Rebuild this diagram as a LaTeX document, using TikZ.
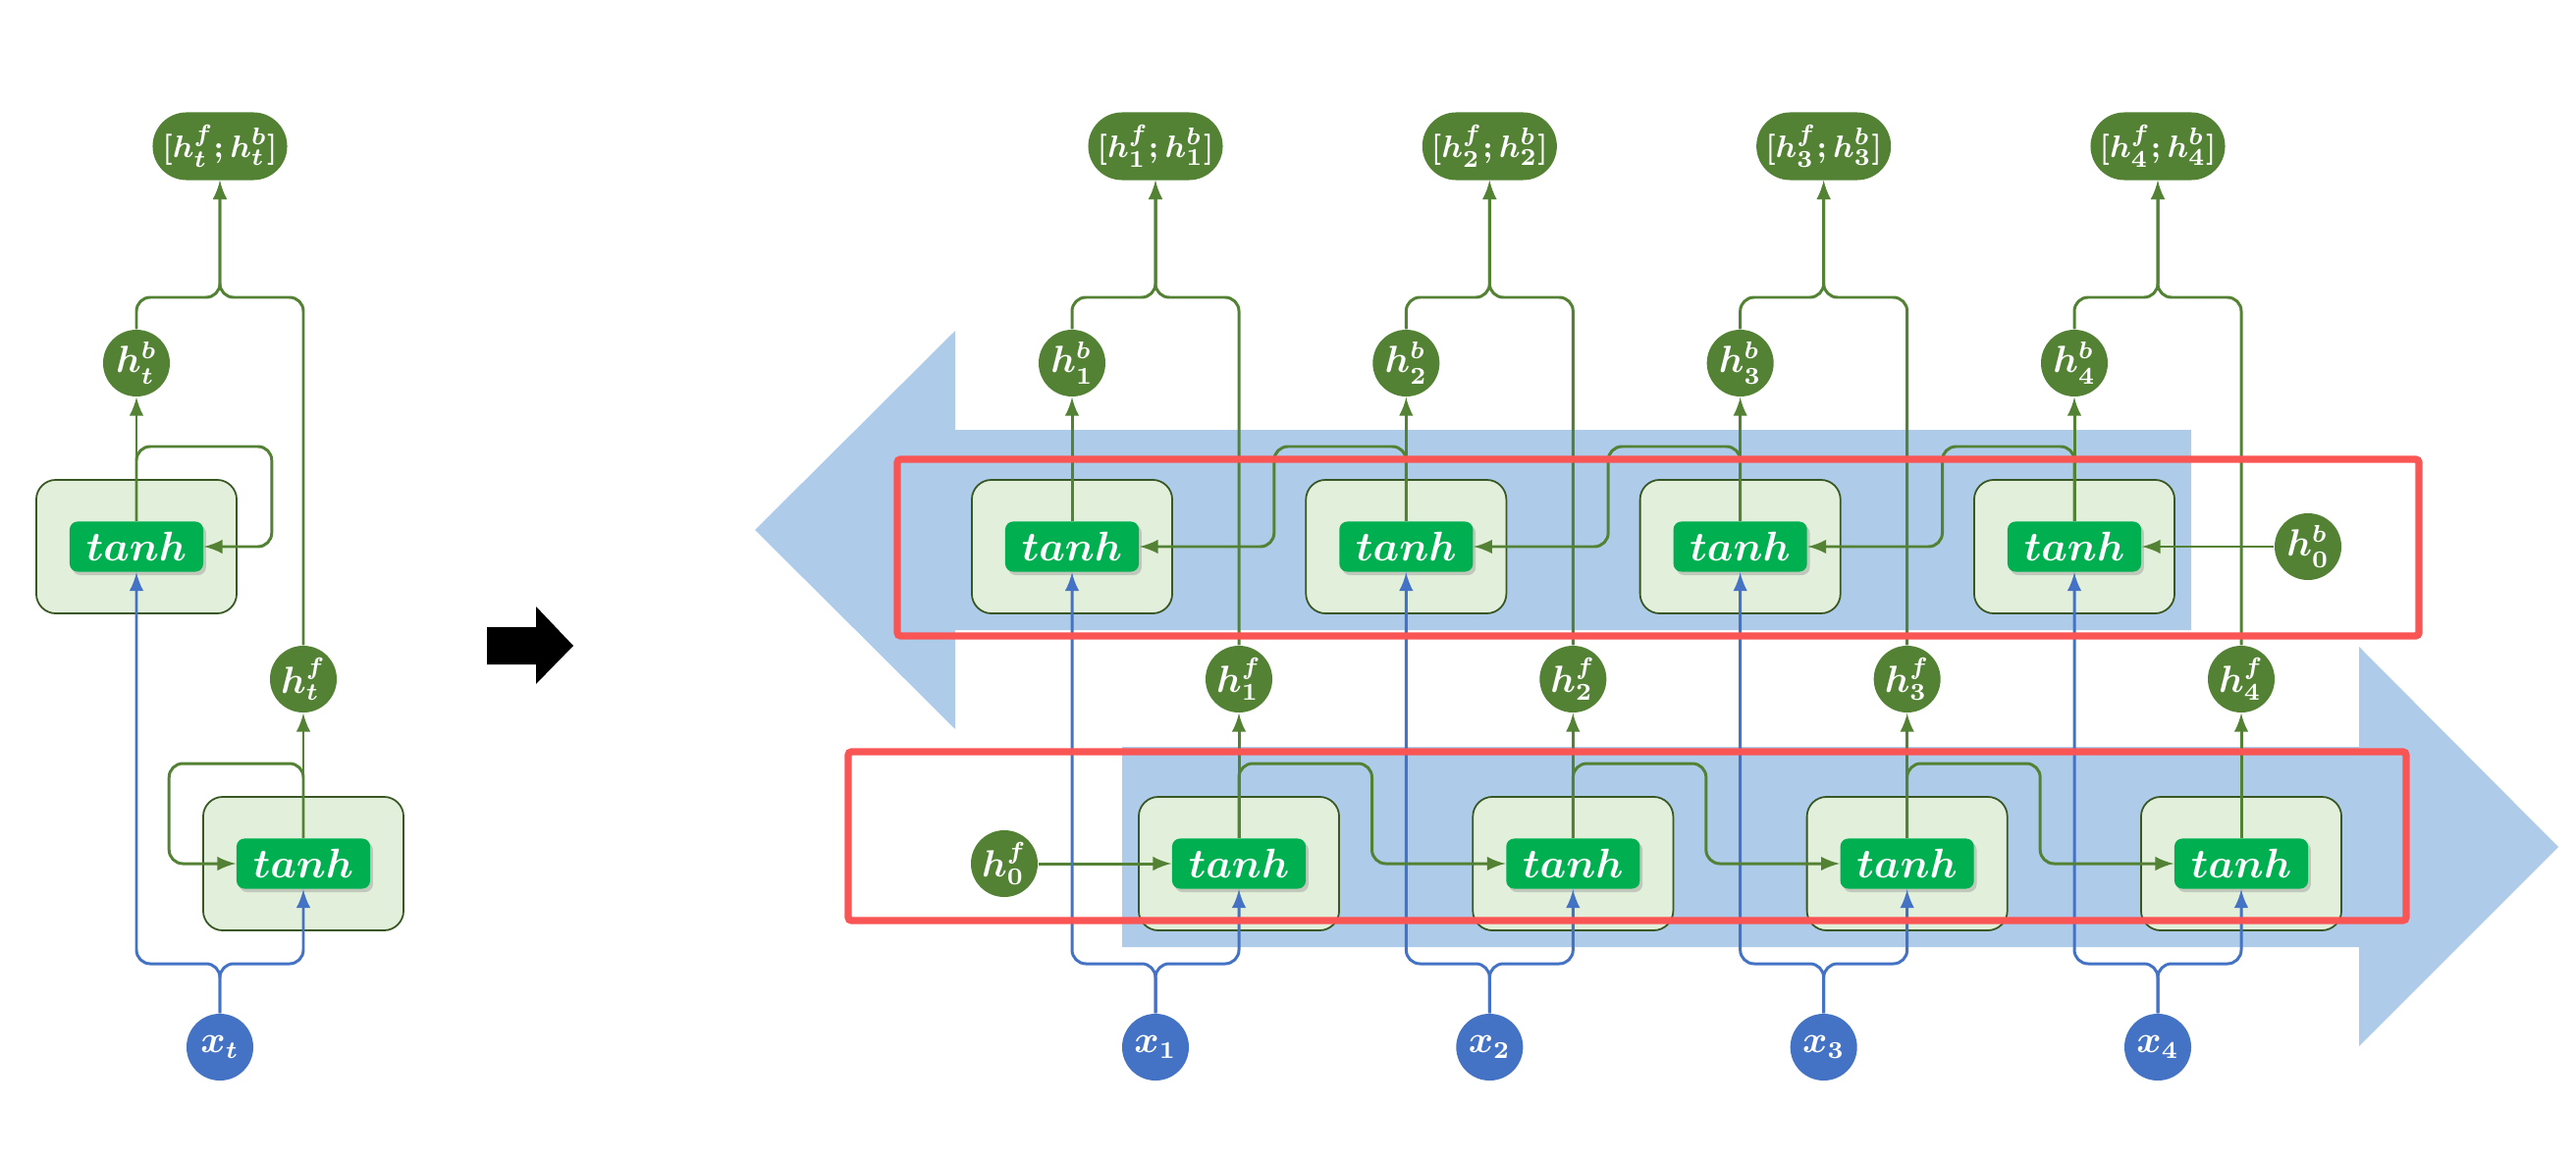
\documentclass[tikz,border=0pt]{standalone}
\usetikzlibrary{shadows}

\definecolor{nodegreen}{HTML}{548235}
\definecolor{tanhgreen}{HTML}{00B050}
\definecolor{cellgreen}{HTML}{E2EFDA}
\definecolor{celledge}{HTML}{385723}
\definecolor{inblue}{HTML}{4472C4}
\definecolor{flowblue}{HTML}{AECCEA}
\definecolor{boxred}{HTML}{FA5555}

\begin{document}
\begin{tikzpicture}[> = latex, x = 0.01cm, y = -0.01cm,
	cell/.style = {draw = celledge, line width = 0.5pt, fill = cellgreen, rounded corners = 0.2cm, minimum width = 2.04cm, minimum height = 1.36cm},
	act/.style = {fill = tanhgreen, text = white, rounded corners = 0.08cm, minimum width = 1.36cm, minimum height = 0.51cm, inner sep = 0pt, font = \fontsize{12}{14}\selectfont\boldmath, drop shadow = {opacity = 0.35, shadow xshift = 0.8pt, shadow yshift = -1pt}},
	hnode/.style = {circle, fill = nodegreen, text = white, minimum size = 0.68cm, inner sep = 0pt, font = \fontsize{10.5}{12}\selectfont\boldmath},
	xnode/.style = {hnode, fill = inblue},
	concat/.style = {fill = nodegreen, text = white, rounded corners = 0.345cm, minimum width = 1.37cm, minimum height = 0.69cm, inner sep = 0pt, font = \fontsize{9.5}{11}\selectfont\boldmath},
	conn/.style = {nodegreen, line width = 0.85pt, rounded corners = 4pt},
	feed/.style = {inblue, line width = 0.85pt, rounded corners = 4pt},
	redframe/.style = {boxred, line width = 2.1pt, rounded corners = 1pt}]

	\useasboundingbox (0, 0) rectangle (2624, 1182);

	% Definitions
	
	\def\U{1092}		% x of first backward cell
	\def\D{340.33}		% Spacing of time steps
	\def\S{170}		% Shift of forward cells
	
	% Direction arrows
	
	\fill [flowblue] (769, 540) -- (973, 337) -- (973, 438) -- (2232, 438) -- (2232, 642) -- (973, 642) -- (973, 743) -- cycle;
	\fill [flowblue] (2606, 863) -- (2403, 659) -- (2403, 761) -- (1143, 761) -- (1143, 965) -- (2403, 965) -- (2403, 1066) -- cycle;
	
	% Unfold arrow
	
	\fill (496, 639) -- (546, 639) -- (546, 618) -- (584, 658) -- (546, 697) -- (546, 677) -- (496, 677) -- cycle;
	
	% Folded network
	
	\node [cell] (cellb-t) at (139, 557) {};
	\node [act] (tanhb-t) at (139, 557) {$tanh$};
	\node [cell] (cellf-t) at (309, 880) {};
	\node [act] (tanhf-t) at (309, 880) {$tanh$};
	\node [hnode] (hb-t) at (139, 370) {$h^b_t$};
	\node [hnode] (hf-t) at (309, 692) {$h^f_t$};
	\node [xnode] (x-t) at (224, 1067) {$x_t$};
	\node [concat] (out-t) at (224, 149) {$[h^f_t; h^b_t]$};
	
	\draw [conn, ->] (tanhb-t.north) -- (hb-t.south);
	\draw [conn, ->] (tanhf-t.north) -- (hf-t.south);
	\draw [conn, ->] (tanhb-t.north) -- (tanhb-t.north |- 0, 455) -| ([xshift = 0.69cm] tanhb-t.east) -- (tanhb-t.east);
	\draw [conn, ->] (tanhf-t.north) -- (tanhf-t.north |- 0, 778) -| ([xshift = -0.68cm] tanhf-t.west) -- (tanhf-t.west);
	\draw [conn, ->] (hb-t.north) |- (out-t.south |- 0, 303) -- (out-t.south);
	\draw [conn, ->] (hf-t.north) |- (out-t.south |- 0, 303) -- (out-t.south);
	\draw [feed, ->] (x-t.north) |- (tanhb-t.south |- 0, 982) -- (tanhb-t.south);
	\draw [feed, ->] (x-t.north) |- (tanhf-t.south |- 0, 982) -- (tanhf-t.south);
	
	% Unfolded cells and states
	
	\foreach \i in {1, ..., 4}
	{
		\pgfmathsetmacro{\xb}{\U + \D * (\i - 1)}
		\pgfmathsetmacro{\xf}{\xb + \S}
		\pgfmathsetmacro{\xo}{\xb + \S / 2}
		
		\node [cell] (cellb-\i) at (\xb, 557) {};
		\node [act] (tanhb-\i) at (\xb, 557) {$tanh$};
		\node [cell] (cellf-\i) at (\xf, 880) {};
		\node [act] (tanhf-\i) at (\xf, 880) {$tanh$};
		\node [hnode] (hb-\i) at (\xb, 370) {$h^b_\i$};
		\node [hnode] (hf-\i) at (\xf, 692) {$h^f_\i$};
		\node [xnode] (x-\i) at (\xo, 1067) {$x_\i$};
		\node [concat] (out-\i) at (\xo, 149) {$[h^f_\i; h^b_\i]$};
	}
	
	% Initial states
	
	\node [hnode] (hb-0) at (2351, 557) {$h^b_0$};
	\node [hnode] (hf-0) at (1023, 880) {$h^f_0$};
	
	\draw [conn, ->] (hb-0) -- (tanhb-4.east);
	\draw [conn, ->] (hf-0) -- (tanhf-1.west);
	
	% Outputs and inputs
	
	\foreach \i in {1, ..., 4}
	{
		\draw [conn, ->] (tanhb-\i.north) -- (hb-\i.south);
		\draw [conn, ->] (tanhf-\i.north) -- (hf-\i.south);
		\draw [conn, ->] (hb-\i.north) |- (out-\i.south |- 0, 303) -- (out-\i.south);
		\draw [conn, ->] (hf-\i.north) |- (out-\i.south |- 0, 303) -- (out-\i.south);
		\draw [feed, ->] (x-\i.north) |- (tanhb-\i.south |- 0, 982) -- (tanhb-\i.south);
		\draw [feed, ->] (x-\i.north) |- (tanhf-\i.south |- 0, 982) -- (tanhf-\i.south);
	}
	
	% Recurrent links
	
	\foreach \i/\j in {1/2, 2/3, 3/4}
	{
		\draw [conn, ->] (tanhb-\j.north) -- (tanhb-\j.north |- 0, 455) -| ([xshift = 1.37cm] tanhb-\i.east) -- (tanhb-\i.east);
		\draw [conn, ->] (tanhf-\i.north) -- (tanhf-\i.north |- 0, 778) -| ([xshift = -1.36cm] tanhf-\j.west) -- (tanhf-\j.west);
	}
	
	% Direction frames
	
	\draw [redframe] (914, 468) rectangle (2464, 648);
	\draw [redframe] (864, 766) rectangle (2451, 938);
	
\end{tikzpicture}
\end{document}
